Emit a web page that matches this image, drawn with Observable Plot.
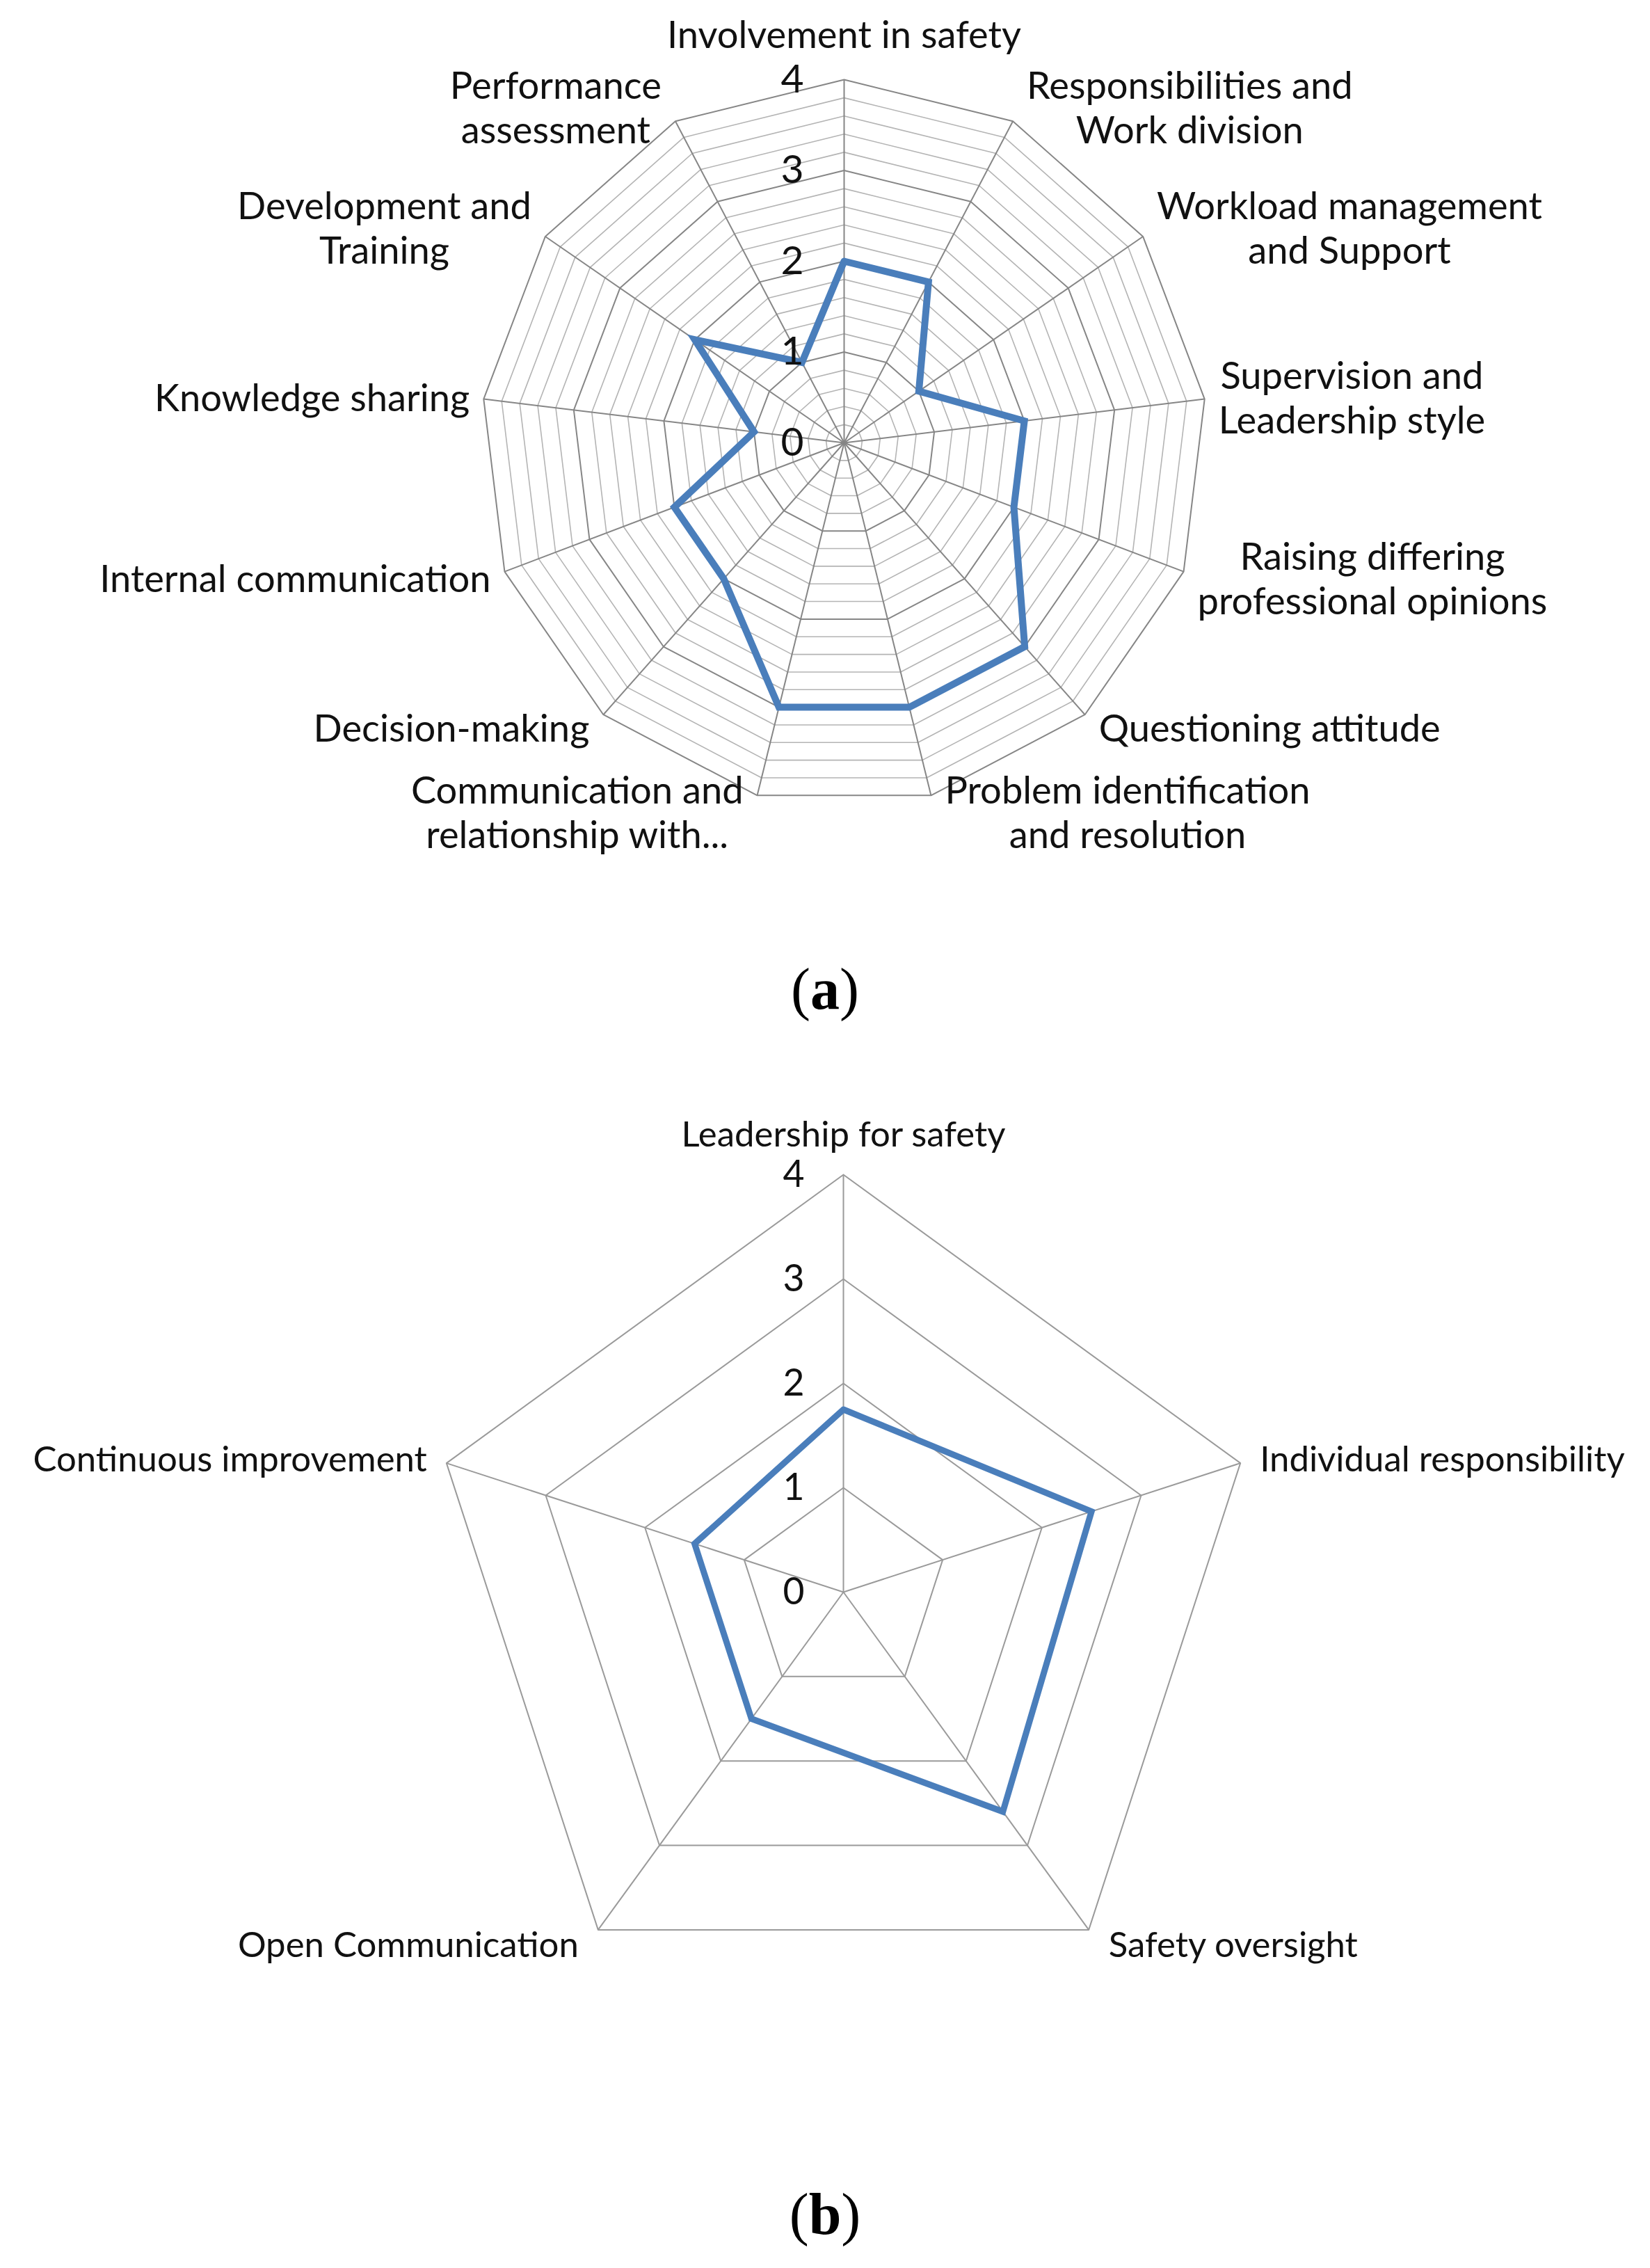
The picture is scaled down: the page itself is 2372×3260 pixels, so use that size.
<!DOCTYPE html>
<html>
<head>
<meta charset="utf-8">
<script src="https://cdn.jsdelivr.net/npm/d3@7"></script>
<script src="https://cdn.jsdelivr.net/npm/@observablehq/plot@0.6"></script>
<style>
  html, body { margin: 0; padding: 0; background: #fff; }
  #page { width: 2372px; }
  .cap { width: 2372px; text-align: center; font-family: "Liberation Serif", serif; font-size: 84px; color: #000; }
  .cap b { font-weight: bold; }
</style>
</head>
<body>
<div id="page">
  <div id="chartA"></div>
  <div class="cap" style="height:170px; line-height:164px;">(<b>a</b>)</div>
  <div id="chartB"></div>
  <div class="cap" style="height:127px; padding-top:133px; line-height:100px;">(<b>b</b>)</div>
</div>
<script>
// ---------- data ----------
const aAxes = [
  "Involvement in safety",
  "Responsibilities and\nWork division",
  "Workload management\nand Support",
  "Supervision and\nLeadership style",
  "Raising differing\nprofessional opinions",
  "Questioning attitude",
  "Problem identification\nand resolution",
  "Communication and\nrelationship with...",
  "Decision-making",
  "Internal communication",
  "Knowledge sharing",
  "Development and\nTraining",
  "Performance\nassessment"
];
const aValues = [2, 2, 1, 2, 2, 3, 3, 3, 2, 2, 1, 2, 1];

const bAxes = [
  "Leadership for safety",
  "Individual responsibility",
  "Safety oversight",
  "Open Communication",
  "Continuous improvement"
];
const bValues = [1.75, 2.5, 2.6, 1.5, 1.5];

const tickValues = [0, 1, 2, 3, 4];
const rMax = 4;

// ---------- helpers ----------
const FONT = "Lato";
const ctx = document.createElement("canvas").getContext("2d");
function measure(txt, size) {
  ctx.font = `${size}px ${FONT}`;
  return Math.max(...txt.split("\n").map(l => ctx.measureText(l).width));
}

function radar(o) {
  const n = o.axes.length;
  const ang = i => (2 * Math.PI * i) / n;
  const sx = i => Math.sin(ang(i)), sy = i => Math.cos(ang(i));
  const k = o.unit;
  const lh = o.lineHeight;

  const ring = r => d3.range(n + 1).map(j => ({r, x: r * sx(j % n), y: r * sy(j % n)}));
  const majorPts = tickValues.filter(v => v > 0).flatMap(ring);
  const minorPts = o.minorRings.flatMap(ring);

  const dataPts = d3.range(n + 1).map(j => ({x: o.values[j % n] * sx(j % n), y: o.values[j % n] * sy(j % n)}));

  const labels = o.axes.map((t, i) => {
    const s = sx(i), c = sy(i);
    const vx = rMax * s, vy = rMax * c;
    const w = measure(t, o.fontSize);
    const h = t.split("\n").length * lh * o.fontSize;
    let x, y;
    if (Math.abs(s) < 0.1) {
      x = vx;
      y = vy + Math.sign(c) * (o.gapTop + h / 2) / k;
    } else {
      x = vx + Math.sign(s) * (o.gap + w / 2) / k;
      y = vy + c * o.shift / k;
    }
    return {text: t, x, y};
  });

  return Plot.plot({
    width: o.width,
    height: o.height,
    margin: 0,
    x: {domain: [-o.cx / k, (o.width - o.cx) / k], axis: null},
    y: {domain: [-(o.height - o.cy) / k, o.cy / k], axis: null},
    style: {background: "#fff"},
    marks: [
      Plot.line(minorPts, {x: "x", y: "y", z: "r", stroke: o.minorColor, strokeWidth: o.minorWidth}),
      Plot.line(majorPts, {x: "x", y: "y", z: "r", stroke: o.gridColor, strokeWidth: o.gridWidth}),
      Plot.link(d3.range(n), {x1: 0, y1: 0, x2: i => rMax * sx(i), y2: i => rMax * sy(i), stroke: o.gridColor, strokeWidth: o.gridWidth}),
      Plot.line(dataPts, {x: "x", y: "y", stroke: "#4a7ebb", strokeWidth: o.lineWidth, strokeLinejoin: "miter", strokeMiterlimit: 10}),
      Plot.text(tickValues, {x: 0, y: d => d, text: d => String(d), textAnchor: "end", lineAnchor: "middle", dx: -o.tickGap, fontFamily: FONT, fontSize: o.tickSize, fill: "#111"}),
      Plot.text(labels, {x: "x", y: "y", text: "text", textAnchor: "middle", lineAnchor: "middle", lineHeight: lh, fontFamily: FONT, fontSize: o.fontSize, fill: "#111"})
    ]
  });
}

const fontA = 58 * 509 / measure("Involvement in safety", 58);
const fontB = 55 * 467 / measure("Leadership for safety", 55);

document.getElementById("chartA").append(radar({
  axes: aAxes, values: aValues,
  width: 2372, height: 1340, cx: 1213, cy: 636, unit: 130.5,
  minorRings: d3.range(1, 20).filter(i => i % 5 !== 0).map(i => i * 0.2),
  fontSize: fontA, tickSize: fontA * 1.05, lineHeight: 1.18, gap: 20, gapTop: 34, shift: 24, tickGap: 58,
  gridColor: "#868686", gridWidth: 2, minorColor: "#b4b4b4", minorWidth: 1.6, lineWidth: 10
}));

document.getElementById("chartB").append(radar({
  axes: bAxes, values: bValues,
  width: 2372, height: 1490, cx: 1212, cy: 778, unit: 150,
  minorRings: [],
  fontSize: fontB, tickSize: fontB * 1.05, lineHeight: 1.18, gap: 28, gapTop: 30, shift: 25, tickGap: 56,
  gridColor: "#9a9a9a", gridWidth: 2, minorColor: "#bbb", minorWidth: 1, lineWidth: 9
}));
</script>
</body>
</html>
